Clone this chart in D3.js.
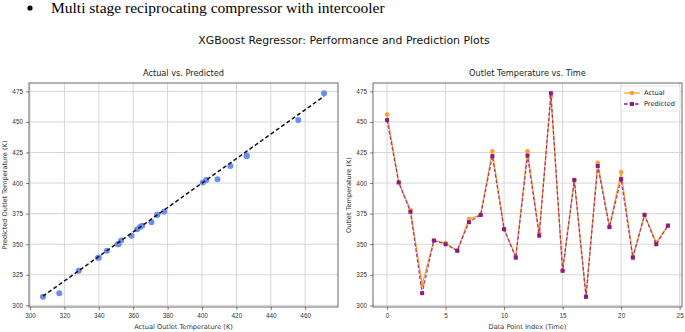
<!DOCTYPE html>
<html>
<head>
<meta charset="utf-8">
<script src="https://cdn.jsdelivr.net/npm/d3@7"></script>
<style>
  body { margin: 0; background: #fff; }
  svg { display: block; font-family: "DejaVu Sans", sans-serif; }
</style>
</head>
<body>
<script>
// values, index 0..24
const actual = [456, 400.5, 378, 317, 353, 351, 344.7, 370.6, 374, 426, 362.3, 340, 426, 359, 471, 328.3, 402.5, 307.5, 416.5, 364, 409, 339.5, 374, 351.5, 365.2];
const predicted = [451.5, 400.5, 376.5, 310, 353, 350, 344.7, 368, 374, 422, 362.3, 339, 422.5, 357, 473.5, 328.3, 402.5, 307, 414, 364, 403.2, 339, 374, 350, 365.2];
const index = d3.range(actual.length);

const yTicks = [300, 325, 350, 375, 400, 425, 450, 475];
const xTicksLeft = [300, 320, 340, 360, 380, 400, 420, 440, 460];
const xTicksRight = [0, 5, 10, 15, 20, 25];

const w = 685, h = 332;
const svg = d3.select("body").append("svg").attr("width", w).attr("height", h);
svg.append("rect").attr("width", w).attr("height", h).attr("fill", "#fff");

// header line above the figure
svg.append("circle").attr("cx", 30).attr("cy", 8).attr("r", 2.6).attr("fill", "#000");
svg.append("text").attr("x", 51).attr("y", 13)
  .style("font-family", "'Liberation Serif', 'Times New Roman', serif")
  .style("font-size", "15.5px")
  .text("Multi stage reciprocating compressor with intercooler");

svg.append("text").attr("x", 344).attr("y", 44).attr("text-anchor", "middle")
  .style("font-size", "10.9px").attr("fill", "#111")
  .text("XGBoost Regressor: Performance and Prediction Plots");

const plotTop = 83, plotBottom = 307;
const ext = d3.extent(actual.concat(predicted));
const pad = (ext[1] - ext[0]) * 0.05;
const y = d3.scaleLinear().domain([ext[0] - pad, ext[1] + pad]).range([plotBottom, plotTop]);

function frame(g, x, xt, yt, title, xlab, ylab, x0, x1) {
  g.append("g").attr("transform", `translate(0,${plotBottom})`)
    .call(d3.axisBottom(x).tickValues(xt).tickSize(3).tickPadding(3))
    .call(a => a.selectAll("text").style("font-size", "6.4px").attr("fill", "#333"));
  g.append("g").attr("transform", `translate(${x0},0)`)
    .call(d3.axisLeft(y).tickValues(yt).tickSize(3).tickPadding(3))
    .call(a => a.selectAll("text").style("font-size", "6.4px").attr("fill", "#333"));
  g.selectAll(".domain").remove();
  g.selectAll(".tick line").attr("stroke", "#444").attr("stroke-width", 0.7);
  // grid
  g.append("g").selectAll("line").data(xt.filter(v => x(v) > x0 && x(v) < x1)).join("line")
    .attr("x1", d => x(d)).attr("x2", d => x(d)).attr("y1", plotTop).attr("y2", plotBottom)
    .attr("stroke", "#d6d6d6").attr("stroke-width", 1);
  g.append("g").selectAll("line").data(yt).join("line")
    .attr("x1", x0).attr("x2", x1).attr("y1", d => y(d)).attr("y2", d => y(d))
    .attr("stroke", "#d6d6d6").attr("stroke-width", 1);
  g.append("rect").attr("x", x0).attr("y", plotTop).attr("width", x1 - x0).attr("height", plotBottom - plotTop)
    .attr("fill", "none").attr("stroke", "#444").attr("stroke-width", 0.8);
  g.append("text").attr("x", (x0 + x1) / 2).attr("y", 76).attr("text-anchor", "middle")
    .style("font-size", "8.2px").attr("fill", "#222").text(title);
  g.append("text").attr("x", (x0 + x1) / 2).attr("y", 329).attr("text-anchor", "middle")
    .style("font-size", "6.6px").attr("fill", "#333").text(xlab);
  g.append("text").attr("transform", `translate(${x0 - 22},${(plotTop + plotBottom) / 2}) rotate(-90)`)
    .attr("text-anchor", "middle").style("font-size", "6.6px").attr("fill", "#333").text(ylab);
}

// left: actual vs predicted
const lx0 = 29, lx1 = 338;
const xA = d3.scaleLinear().domain([d3.min(actual) - 8.1, d3.max(actual) + 8.1]).range([lx0, lx1]);
const gl = svg.append("g");
frame(gl, xA, xTicksLeft, yTicks, "Actual vs. Predicted", "Actual Outlet Temperature (K)", "Predicted Outlet Temperature (K)", lx0, lx1);

gl.append("g").selectAll("circle").data(index).join("circle")
  .attr("cx", i => xA(actual[i])).attr("cy", i => y(predicted[i])).attr("r", 3)
  .attr("fill", "#6b8ff0");
const lo = d3.min(actual), hi = d3.max(actual);
gl.append("line").attr("x1", xA(lo)).attr("y1", y(lo)).attr("x2", xA(hi)).attr("y2", y(hi))
  .attr("stroke", "#111").attr("stroke-width", 1.5).attr("stroke-dasharray", "4,2.5");

// right: time series
const rx0 = 373, rx1 = 682;
const xT = d3.scaleLinear().domain([-1.2, 25.2]).range([rx0, rx1]);
const gr = svg.append("g");
frame(gr, xT, xTicksRight, yTicks, "Outlet Temperature vs. Time", "Data Point Index (Time)", "Outlet Temperature (K)", rx0, rx1);

const lineA = d3.line().x(i => xT(i)).y(i => y(actual[i]));
const lineP = d3.line().x(i => xT(i)).y(i => y(predicted[i]));
const orange = "#ff9f2e", purple = "#8b1a8b";
gr.append("path").attr("d", lineA(index)).attr("fill", "none").attr("stroke", orange).attr("stroke-width", 1.3);
gr.append("g").selectAll("circle").data(index).join("circle")
  .attr("cx", i => xT(i)).attr("cy", i => y(actual[i])).attr("r", 2.3).attr("fill", orange);
gr.append("path").attr("d", lineP(index)).attr("fill", "none").attr("stroke", purple).attr("stroke-opacity", 0.8)
  .attr("stroke-width", 1.3).attr("stroke-dasharray", "3.5,2");
gr.append("g").selectAll("rect").data(index).join("rect")
  .attr("x", i => xT(i) - 2).attr("y", i => y(predicted[i]) - 2).attr("width", 4).attr("height", 4)
  .attr("fill", purple);

// legend
const lg = gr.append("g").attr("transform", "translate(621,86)");
lg.append("rect").attr("width", 59).attr("height", 25).attr("rx", 2)
  .attr("fill", "#fff").attr("fill-opacity", 0.8).attr("stroke", "#ddd").attr("stroke-width", 0.7);
[["Actual", orange, null], ["Predicted", purple, "3.5,2"]].forEach((d, k) => {
  const yy = 7 + k * 11;
  lg.append("line").attr("x1", 3).attr("x2", 19).attr("y1", yy).attr("y2", yy)
    .attr("stroke", d[1]).attr("stroke-width", 1.3).attr("stroke-dasharray", d[2]);
  if (k === 0) lg.append("circle").attr("cx", 11).attr("cy", yy).attr("r", 2.3).attr("fill", d[1]);
  else lg.append("rect").attr("x", 9).attr("y", yy - 2).attr("width", 4).attr("height", 4).attr("fill", d[1]);
  lg.append("text").attr("x", 23).attr("y", yy + 2.3).style("font-size", "6.6px").attr("fill", "#222").text(d[0]);
});
</script>
</body>
</html>
